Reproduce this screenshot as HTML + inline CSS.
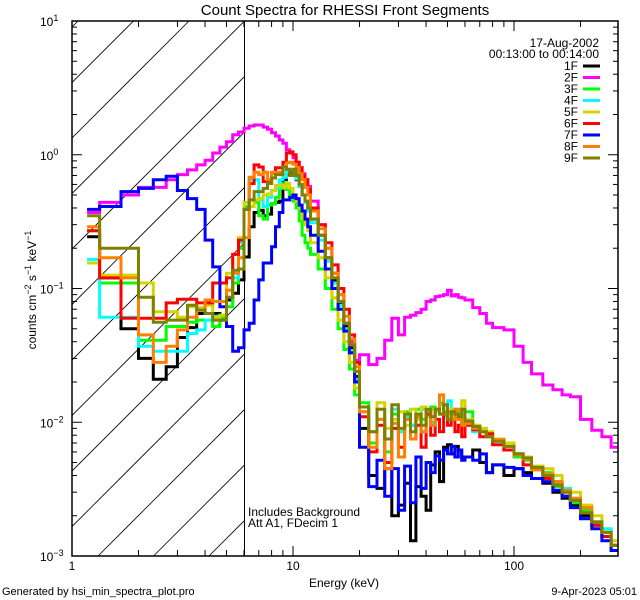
<!DOCTYPE html>
<html><head><meta charset="utf-8"><style>
html,body{margin:0;padding:0;background:#fff;}
svg{display:block;font-family:"Liberation Sans",sans-serif;}
text{fill:#000;}
</style></head><body>
<svg id="chart" width="640" height="600" viewBox="0 0 640 600" xmlns="http://www.w3.org/2000/svg">
<rect width="640" height="600" fill="#fff"/>
<text x="345" y="15" font-size="15" text-anchor="middle">Count Spectra for RHESSI Front Segments</text>
<defs><clipPath id="hatchclip"><rect x="72" y="21" width="172" height="535"/></clipPath>
<clipPath id="plotclip"><rect x="72" y="21" width="546" height="535"/></clipPath></defs>
<g id="hatch" clip-path="url(#hatchclip)"></g>
<line x1="244.5" y1="21" x2="244.5" y2="556" stroke="#000" stroke-width="1"/>
<g id="series" clip-path="url(#plotclip)"></g>
<rect x="72" y="21" width="546" height="535" fill="none" stroke="#000" stroke-width="1.5"/>
<g id="ticks"></g>
<text transform="translate(36,290) rotate(-90)" font-size="12" text-anchor="middle">counts cm<tspan dy="-5" font-size="9">−2</tspan><tspan dy="5"> s</tspan><tspan dy="-5" font-size="9">−1</tspan><tspan dy="5"> keV</tspan><tspan dy="-5" font-size="9">−1</tspan></text>
<text x="344" y="587" font-size="12" text-anchor="middle">Energy (keV)</text>
<text x="599" y="47" font-size="12" text-anchor="end">17-Aug-2002</text>
<text x="599" y="58" font-size="12" text-anchor="end">00:13:00 to 00:14:00</text>
<g id="legend"></g>
<text x="248" y="516" font-size="12">Includes Background</text>
<text x="248" y="527" font-size="12">Att A1, FDecim 1</text>
<text x="2" y="595" font-size="11">Generated by hsi_min_spectra_plot.pro</text>
<text x="637" y="595" font-size="11" text-anchor="end">9-Apr-2023 05:01</text>
</svg>
<script>
const energyEdges = [1.17,1.333,1.667,2,2.333,2.667,3,3.333,3.667,4,4.333,4.667,5,5.333,5.667,6,6.333,6.667,7,7.333,7.667,8,8.333,8.667,9,9.333,9.667,10,10.333,10.667,11,11.333,11.667,12,13,14,15,16,17,18,19,20,22,24,26,28,30,32,34,36,38,40,42,44,46,48,50,52,54,56,58,60,65,70,75,80,90,100,110,120,135,150,165,180,200,225,250,275,295];
const seriesNames = ["1F","2F","3F","4F","5F","6F","7F","8F","9F"];
const s1F = [0.244,0.12,0.05,0.030,0.021,0.026,0.043,0.051,0.065,0.065,0.065,0.058,0.082,0.092,0.116,0.172,0.29,0.37,0.385,0.35,0.36,0.43,0.44,0.45,0.65,0.71,0.73,0.7,0.65,0.58,0.5,0.45,0.4,
0.33,0.25,0.17,0.115,0.078,0.052,0.036,0.022,
0.009,0.004,0.0032,0.0045,0.002,0.0024,0.0035,0.0013,0.0033,0.0028,0.0022,0.0048,0.006,0.0036,0.0065,0.0068,0.0058,0.0066,0.0062,0.0055,
0.0055,0.0062,0.005,0.0042,0.0048,0.004,0.0045,0.0042,0.0038,0.0035,0.003,0.0027,0.0024,0.002,0.0017,0.0014,0.0012];
const s2F = [0.37,0.44,0.50,0.57,0.57,0.65,0.71,0.77,0.84,0.91,1.03,1.14,1.25,1.41,1.48,1.58,1.64,1.67,1.67,1.61,1.55,1.46,1.38,1.29,1.22,1.09,1.03,0.95,0.88,0.8,0.72,0.65,0.58,
0.45,0.30,0.2,0.13,0.09,0.055,0.04,0.029,
0.032,0.027,0.03,0.041,0.06,0.045,0.061,0.063,0.066,0.07,0.08,0.082,0.087,0.088,0.09,0.097,0.088,0.09,0.086,0.085,
0.082,0.072,0.065,0.055,0.051,0.049,0.037,0.028,0.023,0.019,0.0175,0.016,0.0155,0.0105,0.0087,0.0078,0.0065];
const s3F = [0.27,0.11,0.11,0.041,0.041,0.052,0.052,0.056,0.058,0.058,0.052,0.061,0.073,0.11,0.2,0.41,0.46,0.44,0.35,0.33,0.42,0.43,0.48,0.56,0.61,0.55,0.5,0.45,0.4,0.32,0.25,0.22,0.2,
0.18,0.14,0.1,0.07,0.05,0.035,0.025,0.016,
0.014,0.007,0.0105,0.006,0.0115,0.0085,0.012,0.0095,0.0125,0.0105,0.0115,0.013,0.0125,0.014,0.012,0.0105,0.0125,0.0112,0.0125,0.0095,
0.012,0.0092,0.0085,0.0082,0.0075,0.0062,0.0055,0.0052,0.0045,0.0042,0.0033,0.0032,0.0025,0.0022,0.0017,0.0015,0.0012];
const s4F = [0.165,0.061,0.061,0.037,0.034,0.034,0.034,0.046,0.049,0.058,0.062,0.063,0.097,0.12,0.22,0.44,0.65,0.65,0.46,0.41,0.48,0.54,0.56,0.65,0.68,0.77,0.78,0.72,0.66,0.58,0.5,0.44,0.38,
0.31,0.23,0.16,0.11,0.075,0.05,0.034,0.021,
0.012,0.0085,0.0105,0.0075,0.0125,0.0085,0.011,0.0095,0.011,0.0125,0.0115,0.01,0.0125,0.0135,0.011,0.0145,0.0115,0.0125,0.0105,0.0095,
0.0095,0.0085,0.009,0.0078,0.0072,0.0062,0.0058,0.0048,0.0046,0.0038,0.0036,0.0032,0.0026,0.0021,0.0017,0.0016,0.0011];
const s5F = [0.155,0.126,0.126,0.11,0.067,0.067,0.061,0.073,0.072,0.075,0.061,0.063,0.13,0.18,0.24,0.44,0.41,0.46,0.47,0.5,0.51,0.54,0.59,0.59,0.57,0.61,0.56,0.5,0.45,0.4,0.33,0.3,0.27,
0.22,0.17,0.12,0.085,0.058,0.04,0.028,0.018,
0.013,0.0085,0.014,0.009,0.0105,0.012,0.0095,0.0125,0.0105,0.013,0.011,0.0125,0.012,0.0115,0.0135,0.0115,0.0125,0.011,0.0105,0.0145,
0.0105,0.0095,0.009,0.0085,0.0075,0.007,0.0058,0.0055,0.0047,0.0045,0.004,0.003,0.003,0.0024,0.002,0.0015,0.0013];
const s6F = [0.27,0.12,0.06,0.06,0.06,0.078,0.083,0.083,0.078,0.078,0.11,0.11,0.12,0.18,0.23,0.39,0.61,0.84,0.81,0.63,0.63,0.73,0.8,0.8,0.88,1.03,1.05,1.0,0.88,0.8,0.7,0.65,0.55,
0.4,0.3,0.22,0.15,0.1,0.07,0.045,0.028,
0.011,0.006,0.0095,0.005,0.009,0.0065,0.0105,0.0075,0.0095,0.0065,0.0115,0.008,0.0105,0.0085,0.0115,0.0095,0.0105,0.0085,0.0095,0.0078,
0.0095,0.0088,0.0078,0.0082,0.0068,0.0062,0.0058,0.0048,0.0045,0.0038,0.0034,0.0028,0.0026,0.0021,0.0017,0.0014,0.0012];
const s7F = [0.39,0.41,0.53,0.56,0.65,0.69,0.54,0.47,0.39,0.23,0.145,0.073,0.052,0.034,0.036,0.049,0.055,0.082,0.116,0.155,0.155,0.205,0.29,0.37,0.46,0.46,0.48,0.5,0.47,0.42,0.38,0.33,0.29,
0.25,0.19,0.14,0.1,0.07,0.048,0.033,0.02,
0.0065,0.0033,0.0052,0.0028,0.0045,0.0022,0.0047,0.0025,0.0055,0.0032,0.005,0.0042,0.0056,0.0052,0.0062,0.0058,0.0066,0.0055,0.0062,0.0052,
0.0055,0.0052,0.0058,0.0042,0.0048,0.0046,0.0045,0.004,0.0038,0.0036,0.0031,0.0028,0.0023,0.0019,0.0016,0.0013,0.0011];
const s8F = [0.29,0.17,0.12,0.045,0.028,0.037,0.049,0.061,0.069,0.082,0.08,0.08,0.097,0.13,0.17,0.24,0.68,0.74,0.71,0.74,0.65,0.74,0.74,0.74,0.81,0.87,0.88,0.85,0.8,0.72,0.65,0.57,0.5,
0.38,0.28,0.2,0.13,0.09,0.062,0.042,0.026,
0.012,0.0065,0.0105,0.0045,0.0098,0.0055,0.0105,0.0075,0.011,0.0085,0.012,0.0095,0.0125,0.016,0.0115,0.012,0.0105,0.0125,0.0105,0.0095,
0.0098,0.009,0.0085,0.0078,0.0074,0.0066,0.0057,0.0053,0.0044,0.0041,0.0036,0.0031,0.0027,0.0023,0.0018,0.0015,0.0012];
const s9F = [0.35,0.2,0.2,0.086,0.056,0.058,0.058,0.075,0.069,0.065,0.058,0.058,0.086,0.137,0.14,0.39,0.46,0.53,0.53,0.56,0.61,0.67,0.71,0.71,0.81,0.78,0.7,0.78,0.7,0.6,0.5,0.45,0.4,
0.33,0.25,0.17,0.12,0.08,0.055,0.038,0.024,
0.013,0.0085,0.0125,0.0075,0.0135,0.009,0.0115,0.0085,0.0115,0.0095,0.0125,0.011,0.0125,0.0115,0.0135,0.0105,0.012,0.0115,0.011,0.0125,
0.0102,0.0093,0.0085,0.0078,0.0072,0.0066,0.0058,0.0054,0.0046,0.004,0.0034,0.003,0.0026,0.0021,0.0018,0.0015,0.0012];
const xTickLabels = ["1","10","100"];
const yTickExponents = ["1","0","−1","−2","−3"];

const seriesValues = [s1F,s2F,s3F,s4F,s5F,s6F,s7F,s8F,s9F];
const seriesColors = ["#000000","#ff00ff","#00ff00","#00ffff","#d4d400","#ff0000","#0000ff","#ff8000","#808000"];
const NS = "http://www.w3.org/2000/svg";
const X0=72, X1=618, Y0=21, Y1=556;
const xLogMin=0, xDec=221;
const yLogMax=1, yLogMin=-3;
function xScale(e){ return X0 + (Math.log10(e)-xLogMin)*xDec; }
function yScale(v){ return Y0 + (yLogMax-Math.log10(v))/(yLogMax-yLogMin)*(Y1-Y0); }

const hatch = document.getElementById('hatch');
for(let k=-12;k<6;k++){
  const bx = 98 + k*55.5;
  const ln = document.createElementNS(NS,'line');
  
  
  ln.setAttribute('x1',bx); ln.setAttribute('y1',Y1);
  ln.setAttribute('x2',bx+(Y1-Y0)); ln.setAttribute('y2',Y0);
  ln.setAttribute('stroke','#000'); ln.setAttribute('stroke-width','0.8');
  hatch.appendChild(ln);
}

const sg = document.getElementById('series');
seriesValues.forEach((vals,si)=>{
  let d='';
  const n=Math.min(vals.length, energyEdges.length-1);
  for(let i=0;i<n;i++){
    const xa=xScale(energyEdges[i]), xb=xScale(energyEdges[i+1]), y=yScale(vals[i]);
    d += (i===0?'M':'L')+xa.toFixed(1)+','+y.toFixed(1)+'L'+xb.toFixed(1)+','+y.toFixed(1);
  }
  const p=document.createElementNS(NS,'path');
  
  
  p.setAttribute('d',d); p.setAttribute('fill','none');
  p.setAttribute('stroke',seriesColors[si]); p.setAttribute('stroke-width','3');
  p.setAttribute('stroke-linejoin','miter');
  sg.appendChild(p);
});

const tg=document.getElementById('ticks');
function tick(x1,y1,x2,y2){
  const l=document.createElementNS(NS,'line');
  
  
  l.setAttribute('x1',x1);l.setAttribute('y1',y1);l.setAttribute('x2',x2);l.setAttribute('y2',y2);
  l.setAttribute('stroke','#000');l.setAttribute('stroke-width','1');
  tg.appendChild(l);
}
function label(x,y,txt,anchor,name){
  const t=document.createElementNS(NS,'text');
  
  
  t.setAttribute('x',x);t.setAttribute('y',y);t.setAttribute('font-size','12');
  t.setAttribute('text-anchor',anchor);
  t.textContent=txt; tg.appendChild(t); return t;
}
for(let dec=0;dec<3;dec++){
  for(let m=1;m<10;m++){
    const e=m*Math.pow(10,dec); const x=xScale(e);
    if(x>X1) break;
    const len = m===1?10:6;
    tick(x,Y1,x,Y1-len); tick(x,Y0,x,Y0+len);
  }
  label(xScale(Math.pow(10,dec)),570,xTickLabels[dec],'middle','x-tick-label');
}
for(let dec=-3;dec<=1;dec++){
  for(let m=1;m<10;m++){
    const v=m*Math.pow(10,dec); if(v>10.0001) break;
    const y=yScale(v); const len=m===1?10:5;
    tick(X0,y,X0+len,y); tick(X1,y,X1-len,y);
  }
  const t=label(40,yScale(Math.pow(10,dec))+5,'10','start','y-tick-label');
  const ts=document.createElementNS(NS,'tspan');
  ts.setAttribute('dy','-5'); ts.setAttribute('font-size','9');
  ts.textContent=yTickExponents[1-dec];
  t.appendChild(ts);
}

const lg=document.getElementById('legend');
seriesNames.forEach((nm,i)=>{
  const y=66+i*11.5;
  const t=document.createElementNS(NS,'text');
  
  
  t.setAttribute('x',578);t.setAttribute('y',y+4);t.setAttribute('font-size','12');t.setAttribute('text-anchor','end');
  t.textContent=nm; lg.appendChild(t);
  const l=document.createElementNS(NS,'line');
  
  
  l.setAttribute('x1',583);l.setAttribute('x2',600);l.setAttribute('y1',y);l.setAttribute('y2',y);
  l.setAttribute('stroke',seriesColors[i]);l.setAttribute('stroke-width','3');
  lg.appendChild(l);
});
</script>
</body></html>
